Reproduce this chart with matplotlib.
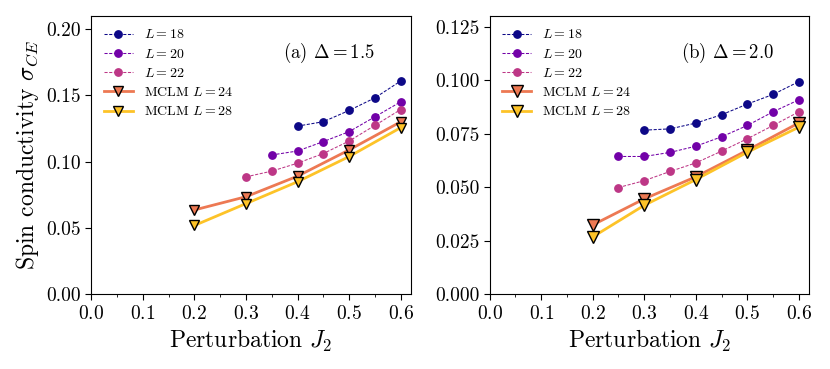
import matplotlib
matplotlib.use('Agg')
import matplotlib.pyplot as plt
from matplotlib.ticker import MultipleLocator

# --- data ---
j2_l18_a = [0.40, 0.45, 0.50, 0.55, 0.60]
sigma_l18_a = [0.1268, 0.1301, 0.1386, 0.1481, 0.1608]
j2_l20_a = [0.35, 0.40, 0.45, 0.50, 0.55, 0.60]
sigma_l20_a = [0.1050, 0.1080, 0.1151, 0.1226, 0.1338, 0.1451]
j2_l22_a = [0.30, 0.35, 0.40, 0.45, 0.50, 0.55, 0.60]
sigma_l22_a = [0.0885, 0.0928, 0.0988, 0.1061, 0.1155, 0.1273, 0.1393]
j2_mclm = [0.2, 0.3, 0.4, 0.5, 0.6]
sigma_m24_a = [0.0635, 0.0735, 0.0890, 0.1088, 0.1300]
sigma_m28_a = [0.0518, 0.0683, 0.0848, 0.1038, 0.1256]

j2_l18_b = [0.30, 0.35, 0.40, 0.45, 0.50, 0.55, 0.60]
sigma_l18_b = [0.0766, 0.0772, 0.0799, 0.0838, 0.0888, 0.0933, 0.0993]
j2_l20_b = [0.25, 0.30, 0.35, 0.40, 0.45, 0.50, 0.55, 0.60]
sigma_l20_b = [0.0643, 0.0643, 0.0662, 0.0691, 0.0735, 0.0788, 0.0852, 0.0908]
j2_l22_b = [0.25, 0.30, 0.35, 0.40, 0.45, 0.50, 0.55, 0.60]
sigma_l22_b = [0.0498, 0.0530, 0.0573, 0.0613, 0.0668, 0.0726, 0.0788, 0.0852]
sigma_m24_b = [0.0323, 0.0445, 0.0548, 0.0672, 0.0800]
sigma_m28_b = [0.0267, 0.0415, 0.0535, 0.0663, 0.0780]

panel_labels = [r'(a) $\Delta = 1.5$', r'(b) $\Delta = 2.0$']
y_limits = [0.21, 0.13]
y_steps = [0.05, 0.025]
y_fmt = ['%.2f', '%.3f']
tri_size = [6.5, 9.0]   # triangles are drawn bigger in panel (b)

colors = {'L18': '#0d0887', 'L20': '#7201a8', 'L22': '#bd3786',
          'M24': '#ed7953', 'M28': '#fdc328'}

plt.rcParams['font.family'] = 'serif'
plt.rcParams['font.serif'] = ['cmr10', 'DejaVu Serif']
plt.rcParams['mathtext.fontset'] = 'cm'
plt.rcParams['axes.formatter.use_mathtext'] = True

fig, axes = plt.subplots(1, 2, figsize=(8.3, 3.69), dpi=100)

panels = [
    (j2_l18_a, sigma_l18_a, j2_l20_a, sigma_l20_a, j2_l22_a, sigma_l22_a, sigma_m24_a, sigma_m28_a),
    (j2_l18_b, sigma_l18_b, j2_l20_b, sigma_l20_b, j2_l22_b, sigma_l22_b, sigma_m24_b, sigma_m28_b),
]

for i, (ax, d) in enumerate(zip(axes, panels)):
    x18, y18, x20, y20, x22, y22, m24, m28 = d
    dash_kw = dict(linestyle='--', lw=0.75, marker='o', markersize=5.3, dashes=(3, 1.5))
    ax.plot(x18, y18, color=colors['L18'], label=r'$L = 18$', **dash_kw)
    ax.plot(x20, y20, color=colors['L20'], label=r'$L = 20$', **dash_kw)
    ax.plot(x22, y22, color=colors['L22'], label=r'$L = 22$', **dash_kw)
    tri_kw = dict(lw=2, marker='v', markersize=tri_size[i],
                  markeredgecolor='black', markeredgewidth=1.0)
    ax.plot(j2_mclm, m24, color=colors['M24'], label=r'MCLM $L = 24$', **tri_kw)
    ax.plot(j2_mclm, m28, color=colors['M28'], label=r'MCLM $L = 28$', **tri_kw)

    ax.set_xlim(0, 0.62)
    ax.set_ylim(0, y_limits[i])
    ax.xaxis.set_major_locator(MultipleLocator(0.1))
    ax.xaxis.set_minor_locator(MultipleLocator(0.05))
    ax.yaxis.set_major_locator(MultipleLocator(y_steps[i]))
    ax.yaxis.set_major_formatter(plt.FormatStrFormatter(y_fmt[i]))
    ax.tick_params(axis='both', which='major', labelsize=14, length=4, direction='out')
    ax.tick_params(axis='x', which='minor', length=2.5)
    ax.set_xlabel(r'Perturbation $J_2$', fontsize=17)
    ax.text(0.60, 0.867, panel_labels[i], transform=ax.transAxes, fontsize=13.5, va='center')
    ax.legend(loc='upper left', frameon=False, fontsize=10, handlelength=2.1,
              handletextpad=0.8, labelspacing=0.45)

axes[0].set_ylabel(r'Spin conductivity $\sigma_{CE}$', fontsize=17)

fig.subplots_adjust(left=0.110, right=0.975, bottom=0.203, top=0.957, wspace=0.246)
plt.savefig('out.png', dpi=100)
